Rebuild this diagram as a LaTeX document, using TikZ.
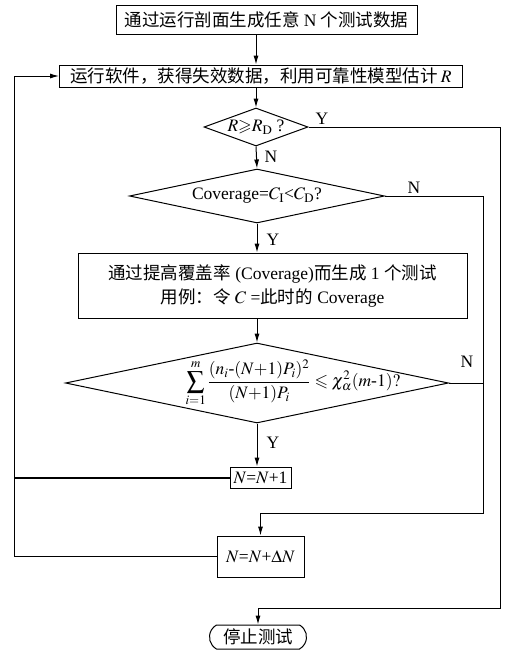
\documentclass[tikz,border=0pt]{standalone}
\usepackage{amsmath}
\usepackage{amssymb}
\usepackage{mathptmx}
\usepackage{fontspec}
\setmainfont{Liberation Serif}
\newfontfamily\cjk{Noto Sans CJK SC}
\usetikzlibrary{shapes.geometric, shapes.misc, arrows.meta}

\tikzset{
  procbox/.style={draw, rectangle, inner sep=0pt, line width=1pt},
  decision/.style={draw, diamond, inner sep=0pt, line width=1pt},
  stopbox/.style={draw, rounded rectangle, rounded rectangle arc length=120, inner sep=0pt, line width=1pt},
  flow/.style={-{Latex[length=9pt,width=5pt]}, line width=1pt},
  yn/.style={inner sep=0pt},
}

\begin{document}
\begin{tikzpicture}[x=1pt, y=-1pt, font=\fontsize{17.5}{21}\selectfont]
  \useasboundingbox (0,0) rectangle (507,657);

  % Steps and decisions
  \node[procbox, minimum width=301pt, minimum height=29pt] (start) at (266.5,19.5)
    {{\cjk 通过运行剖面生成任意} N {\cjk 个测试数据}};
  \node[procbox, minimum width=403pt, minimum height=22pt] (run) at (261,76)
    {{\cjk 运行软件，获得失效数据，利用可靠性模型估计}\,$R$};
  \node[decision, shape aspect=2.7, minimum width=104pt, minimum height=38pt] (d1) at (256,127)
    {$R{\geqslant}R_{\mathrm{D}}$ ?};
  \node[decision, shape aspect=4.7, minimum width=255pt, minimum height=54pt] (d2) at (257,196)
    {Coverage=$C_{\mathrm{I}}$<$C_{\mathrm{D}}$?};
  \node[procbox, minimum width=389pt, minimum height=65pt, align=center,
        font=\fontsize{17.5}{24}\selectfont] (gen) at (272.5,285.5)
    {{\cjk 通过提高覆盖率} (Coverage){\cjk 而生成} 1 {\cjk 个测试}\\
     {\cjk 用例：令} $C$ ={\cjk 此时的} Coverage};
  \node[decision, shape aspect=4.8, minimum width=383pt, minimum height=80pt] (d3) at (257,383)
    {\makebox[0pt]{\hspace*{72pt}$\displaystyle\sum_{i=1}^{m}\frac{(n_i\text{-}(N{+}1)P_i)^2}{(N{+}1)P_i}\leqslant\chi^2_\alpha(m\text{-}1)?$}};
  \node[procbox, minimum width=61pt, minimum height=21pt] (inc) at (260.5,477.5)
    {$N$=$N$+1};
  \node[procbox, minimum width=87pt, minimum height=41pt] (dN) at (260.5,556.5)
    {$N$=$N$+$\Delta N$};
  \node[stopbox, minimum width=97pt, minimum height=24pt] (stop) at (258,637)
    {\cjk 停止测试};

  % Turning points
  \coordinate (yturn) at (500,608);
  \coordinate (nturn) at (483,513);
  \coordinate (loop) at (14,559);

  % Main line
  \draw[flow] (start.south -| d1.north) -- (run.north -| d1.north);
  \draw[flow] (run.south -| d1.north) -- (d1.north);
  \draw[flow] (d1.south) -- (d2.north);
  \draw[flow] (d2.south) -- (d2.south |- gen.north);
  \draw[flow] (gen.south -| d3.north) -- (d3.north);
  \draw[flow] (d3.south) -- (d3.south |- inc.north);

  % Branches
  \draw[flow] (d1.east) -| (yturn) -| (stop.north);
  \draw[flow] (d2.east) -| (nturn) -| (dN.north);
  \draw[line width=1pt] (d3.east) -- (d3.east -| nturn);

  % Loop back
  \draw[flow] (dN.west) -- (dN.west -| loop) |- (run.west);
  \draw[line width=2pt] (inc.west) -- (inc.west -| loop);

  % Y / N
  \node[yn] (y1) at (322,119) {Y};
  \node[yn] (n1) at (271,157) {N};
  \node[yn] (n2) at (414,188) {N};
  \node[yn] (y2) at (273,240) {Y};
  \node[yn] (n3) at (467,362) {N};
  \node[yn] (y3) at (273,443) {Y};
\end{tikzpicture}
\end{document}
